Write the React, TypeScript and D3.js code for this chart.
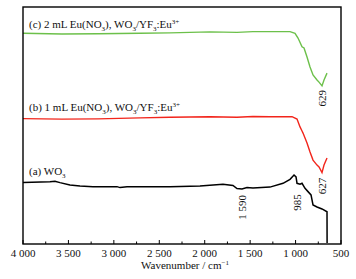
import React from "react";
import * as d3 from "d3";

const W = 356;
const H = 279;
const M = { left: 23, right: 15, top: 7, bottom: 35 };

// wavenumber (cm-1)
const wnC = [4000, 3571, 3175, 2712, 2382, 1942, 1645, 1469, 1282, 1061, 1006, 973, 929, 907, 874, 841, 808, 764, 742, 709, 687, 654];
const valC = [88.9, 88.6, 88.7, 88.9, 89.1, 89.5, 89.3, 89.6, 89.6, 89.6, 88.9, 86.9, 83.2, 82.7, 78.9, 74.7, 71.3, 69.2, 68.3, 66.7, 69.2, 72.1];

const wnB = [4000, 3571, 3175, 2712, 2382, 1942, 1645, 1469, 1282, 1039, 984, 951, 929, 918, 874, 841, 808, 764, 742, 709, 687, 654];
const valB = [52.9, 52.7, 52.8, 53.2, 53.5, 53.7, 53.5, 53.8, 53.7, 53.7, 52.7, 49.4, 47.7, 46.8, 42.6, 38.8, 35.4, 33.3, 32.5, 30.1, 33.3, 36.3];

const wnA = [4000, 3703, 3648, 3593, 3483, 3373, 3230, 2965, 2932, 2855, 2382, 2052, 1799, 1689, 1645, 1590, 1535, 1469, 1282, 1138, 1061, 1017, 995, 984, 951, 929, 896, 863, 830, 808, 764, 709, 654, 653];
const valA = [26.0, 26.3, 26.5, 25.9, 24.9, 24.5, 24.2, 24.2, 23.8, 24.2, 24.2, 24.5, 25.2, 24.7, 23.4, 23.2, 23.8, 23.6, 24.0, 25.6, 27.3, 29.1, 28.3, 25.6, 25.2, 25.6, 23.5, 22.1, 20.7, 16.5, 15.6, 14.8, 13.6, 0.4];

const majorTicks = [4000, 3500, 3000, 2500, 2000, 1500, 1000, 500];
const minorTicks = [3750, 3250, 2750, 2250, 1750, 1250, 750];

const peakLabels = [
  { text: "629", wn: 709, val: 61.5 },
  { text: "627", wn: 709, val: 24.5 },
  { text: "985", wn: 985, val: 17.5 },
  { text: "1 590", wn: 1590, val: 15.5 },
];

const COLORS = { a: "#000000", b: "#f2251b", c: "#6cc04a" };

export default function App() {
  const x = d3.scaleLinear().domain([4000, 500]).range([M.left, W - M.right]);
  const y = d3.scaleLinear().domain([0, 100]).range([H - M.bottom, M.top]);
  const line = (wn: number[], v: number[]) =>
    d3.line<number>().x((_, i) => x(wn[i])).y((_, i) => y(v[i]))(wn.map((_, i) => i)) || "";
  const fmt = (d: number) => d3.format(",")(d).replace(/,/g, " ");
  const font = "'Liberation Serif', 'Times New Roman', serif";
  const fs = 11;
  const ss = 7;
  const x0 = M.left, x1 = W - M.right, y0 = M.top, y1 = H - M.bottom;

  return (
    <svg width={W} height={H} style={{ position: "absolute", left: 0, top: 0, background: "#fff" }}>
      <path d={line(wnC, valC)} fill="none" stroke={COLORS.c} strokeWidth={1.4} />
      <path d={line(wnB, valB)} fill="none" stroke={COLORS.b} strokeWidth={1.4} />
      <path d={line(wnA, valA)} fill="none" stroke={COLORS.a} strokeWidth={1.5} />

      <rect x={x0} y={y0} width={x1 - x0} height={y1 - y0} fill="none" stroke="#000" strokeWidth={1.4} />
      {majorTicks.map((t) => (
        <g key={t}>
          <line x1={x(t)} x2={x(t)} y1={y1} y2={y1 - 4} stroke="#000" strokeWidth={1} />
          <text x={x(t)} y={y1 + 13} textAnchor="middle" fontSize={fs} fontFamily={font} fill="#111">
            {fmt(t)}
          </text>
        </g>
      ))}
      {minorTicks.map((t) => (
        <line key={t} x1={x(t)} x2={x(t)} y1={y1} y2={y1 - 2.5} stroke="#000" strokeWidth={1} />
      ))}
      <text x={185} y={269} textAnchor="middle" fontSize={fs} fontFamily={font} fill="#111">
        Wavenumber / cm<tspan fontSize={ss} dy={-4}>−1</tspan>
      </text>

      <text x={29} y={28} fontSize={fs} fontFamily={font} fill="#111">
        (c) 2 mL Eu(NO<tspan fontSize={ss} dy={2.5}>3</tspan>
        <tspan dy={-2.5}>), WO</tspan>
        <tspan fontSize={ss} dy={2.5}>3</tspan>
        <tspan dy={-2.5}>/YF</tspan>
        <tspan fontSize={ss} dy={2.5}>3</tspan>
        <tspan dy={-2.5}>:Eu</tspan>
        <tspan fontSize={ss} dy={-4.5}>3+</tspan>
      </text>
      <text x={29} y={111} fontSize={fs} fontFamily={font} fill="#111">
        (b) 1 mL Eu(NO<tspan fontSize={ss} dy={2.5}>3</tspan>
        <tspan dy={-2.5}>), WO</tspan>
        <tspan fontSize={ss} dy={2.5}>3</tspan>
        <tspan dy={-2.5}>/YF</tspan>
        <tspan fontSize={ss} dy={2.5}>3</tspan>
        <tspan dy={-2.5}>:Eu</tspan>
        <tspan fontSize={ss} dy={-4.5}>3+</tspan>
      </text>
      <text x={29} y={175} fontSize={fs} fontFamily={font} fill="#111">
        (a) WO<tspan fontSize={ss} dy={2.5}>3</tspan>
      </text>

      {peakLabels.map((p) => (
        <text
          key={p.text}
          transform={`translate(${x(p.wn) + 4},${y(p.val)}) rotate(-90)`}
          textAnchor="middle"
          fontSize={fs}
          fontFamily={font}
          fill="#111"
        >
          {p.text}
        </text>
      ))}
    </svg>
  );
}
